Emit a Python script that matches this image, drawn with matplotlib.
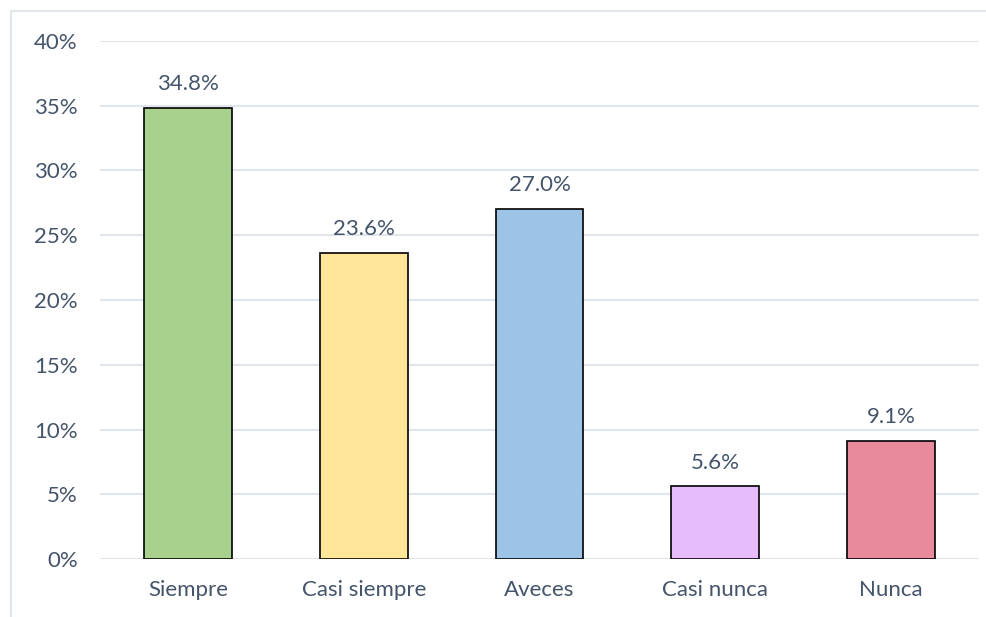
import matplotlib.pyplot as plt
from matplotlib.lines import Line2D

categories = ['Siempre', 'Casi siempre', 'Aveces', 'Casi nunca', 'Nunca']
values = [34.8, 23.6, 27.0, 5.6, 9.1]
colors = ['#A9D18E', '#FFE699', '#9DC3E6', '#E6BCFC', '#E98A9C']
yticks = [0, 5, 10, 15, 20, 25, 30, 35, 40]

text_color = '#44546A'
plt.rcParams['font.family'] = ['Lato', 'DejaVu Sans']

fig = plt.figure(figsize=(9.86, 6.17), dpi=100)
ax = fig.add_axes([100 / 986, 1 - 559 / 617, 879 / 986, (559 - 41) / 617])

# light frame around the chart area (top and left visible)
fig.add_artist(Line2D([11 / 986, 11 / 986], [0, 1 - 11 / 617], color='#E1E5EC', lw=1.5))
fig.add_artist(Line2D([11 / 986, 1], [1 - 11 / 617, 1 - 11 / 617], color='#E1E5EC', lw=1.5))

x = range(len(categories))
bars = ax.bar(x, values, width=0.5, color=colors, edgecolor='black', linewidth=1.2, zorder=3)
for b, v in zip(bars, values):
    ax.annotate(f'{v:.1f}%', (b.get_x() + b.get_width() / 2, v), xytext=(0, 10),
                textcoords='offset points', ha='center', va='bottom',
                fontsize=16, color=text_color)

ax.set_xlim(-0.5, 4.5)
ax.set_ylim(0, 40)
ax.set_yticks(yticks)
ax.set_yticklabels([f'{t}%' for t in yticks])
ax.set_xticks(list(x))
ax.set_xticklabels(categories)
ax.tick_params(length=0, labelsize=16, labelcolor=text_color)
ax.tick_params(axis='y', pad=16)
ax.tick_params(axis='x', pad=15)
ax.grid(axis='y', color='#E1E5EC', lw=1.5, zorder=0)
for s in ax.spines.values():
    s.set_visible(False)

fig.savefig('out.png', dpi=100)
